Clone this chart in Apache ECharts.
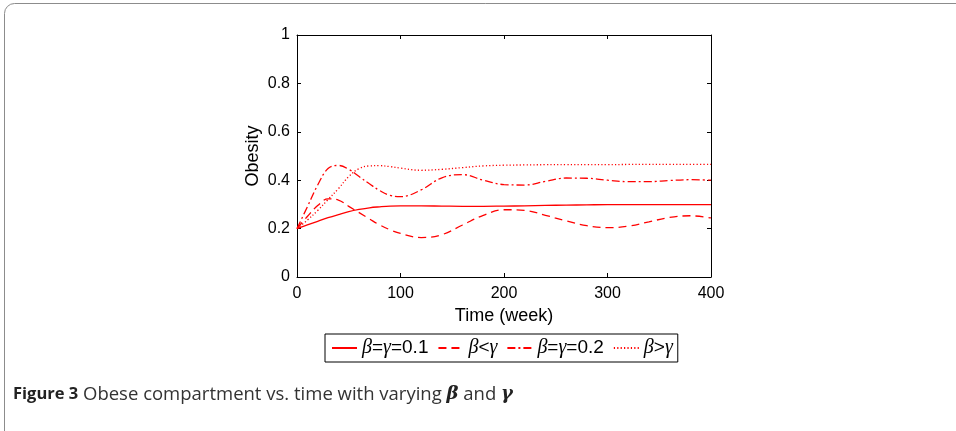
<!DOCTYPE html>
<html>
<head>
<meta charset="utf-8">
<script src="https://cdn.jsdelivr.net/npm/echarts@6/dist/echarts.min.js"></script>
<style>
  html, body { margin: 0; padding: 0; background: #fff; }
  #chart { width: 956px; height: 431px; }
</style>
</head>
<body>
<div id="chart"></div>
<script>
// 시간 (week)
var times = [0, 10, 20, 30, 40, 50, 60, 70, 80, 90, 100, 120, 140, 160, 180, 200, 220, 240, 260, 280, 300, 320, 340, 360, 380, 400];

// beta = gamma = 0.1
var eq01 = [0.2, 0.215, 0.23, 0.245, 0.258, 0.27, 0.279, 0.286, 0.29, 0.293, 0.294, 0.294, 0.293, 0.292, 0.292, 0.293, 0.294, 0.296, 0.297, 0.298, 0.299, 0.299, 0.299, 0.299, 0.299, 0.299];
// beta < gamma
var betaLess = [0.2, 0.25, 0.295, 0.323, 0.318, 0.292, 0.266, 0.24, 0.215, 0.195, 0.18, 0.163, 0.175, 0.215, 0.255, 0.278, 0.275, 0.255, 0.232, 0.212, 0.204, 0.21, 0.228, 0.246, 0.253, 0.244];
// beta = gamma = 0.2
var eq02 = [0.2, 0.29, 0.38, 0.448, 0.461, 0.445, 0.415, 0.385, 0.357, 0.337, 0.332, 0.36, 0.41, 0.423, 0.4, 0.382, 0.38, 0.395, 0.409, 0.408, 0.4, 0.394, 0.394, 0.399, 0.402, 0.4];
// beta > gamma
var betaMore = [0.2, 0.235, 0.275, 0.32, 0.365, 0.415, 0.448, 0.459, 0.46, 0.456, 0.45, 0.441, 0.445, 0.452, 0.459, 0.462, 0.463, 0.464, 0.464, 0.464, 0.464, 0.465, 0.465, 0.465, 0.465, 0.465];

var legendNames = ['b=g=0.1', 'b<g', 'b=g=0.2', 'b>g'];

function pairs(vals) {
    return times.map(function (t, i) { return [t, vals[i]]; });
}

// legend 라벨 (그리스 문자는 이탤릭 serif)
function legendLabel(name) {
    var out = '';
    for (var i = 0; i < name.length; i++) {
        var c = name[i];
        if (c == 'b') out += '{g|β}';
        else if (c == 'g') out += '{g|γ}';
        else out += '{n|' + c + '}';
    }
    return out;
}

var chart = echarts.init(document.getElementById('chart'));

function lineSeries(name, vals, dash) {
    return {
        name: name,
        type: 'line',
        smooth: 0.4,
        showSymbol: false,
        symbol: 'none',
        data: pairs(vals),
        lineStyle: { color: '#ff0000', width: 1.3, type: dash },
        itemStyle: { color: '#ff0000' },
        z: 3
    };
}

function boxAxis(pos) {
    return {
        type: 'value',
        position: pos,
        axisLine: { show: true, onZero: false, lineStyle: { color: '#000', width: 1 } },
        axisTick: { show: true, inside: true, length: 4, lineStyle: { color: '#000' } },
        axisLabel: { show: false },
        splitLine: { show: false }
    };
}

var xTop = boxAxis('top');
xTop.min = 0; xTop.max = 400; xTop.interval = 100;
var yRight = boxAxis('right');
yRight.min = 0; yRight.max = 1; yRight.interval = 0.2;

var option = {
    animation: false,
    backgroundColor: '#fff',
    graphic: [
        {
            type: 'rect',
            shape: { x: 4.5, y: 3.5, width: 1000, height: 500, r: 10 },
            style: { fill: 'none', stroke: '#8c8c8c', lineWidth: 1 },
            silent: true
        },
        {
            type: 'text',
            left: 13,
            top: 385,
            style: {
                rich: {
                    b: { fontFamily: 'Open Sans', fontWeight: 'bold', fontSize: 16.5, fill: '#222' },
                    t: { fontFamily: 'Open Sans', fontSize: 18.5, fill: '#333' },
                    m: { fontFamily: 'DejaVu Serif', fontStyle: 'italic', fontWeight: 'bold', fontSize: 18, fill: '#222' }
                },
                text: '{b|Figure 3}{t| Obese compartment vs. time with varying }{m|β}{t| and }{m|γ}'
            }
        }
    ],
    grid: { left: 297, right: 245, top: 35, bottom: 154 },
    legend: {
        data: legendNames,
        left: 325,
        top: 334,
        orient: 'horizontal',
        itemWidth: 25,
        itemHeight: 10,
        itemGap: 9,
        padding: [4, 5, 4, 6],
        borderColor: '#000',
        borderWidth: 1,
        borderRadius: 0,
        itemStyle: { opacity: 0 },
        formatter: legendLabel,
        textStyle: {
            rich: {
                g: { fontFamily: 'Liberation Serif', fontStyle: 'italic', fontSize: 20, color: '#000' },
                n: { fontFamily: 'Liberation Sans', fontSize: 19, color: '#000' }
            }
        }
    },
    xAxis: [
        {
            type: 'value',
            min: 0, max: 400, interval: 100,
            name: 'Time (week)',
            nameLocation: 'middle',
            nameGap: 30,
            nameTextStyle: { fontFamily: 'Liberation Sans', fontSize: 18, color: '#000' },
            axisLine: { show: true, onZero: false, lineStyle: { color: '#000', width: 1 } },
            axisTick: { show: true, inside: true, length: 4, lineStyle: { color: '#000' } },
            axisLabel: { fontFamily: 'Liberation Sans', fontSize: 16, color: '#000', margin: 9 },
            splitLine: { show: false }
        },
        xTop
    ],
    yAxis: [
        {
            type: 'value',
            min: 0, max: 1, interval: 0.2,
            name: 'Obesity',
            nameLocation: 'middle',
            nameGap: 35,
            nameTextStyle: { fontFamily: 'Liberation Sans', fontSize: 18, color: '#000' },
            axisLine: { show: true, onZero: false, lineStyle: { color: '#000', width: 1 } },
            axisTick: { show: true, inside: true, length: 4, lineStyle: { color: '#000' } },
            axisLabel: { fontFamily: 'Liberation Sans', fontSize: 16, color: '#000', margin: 7 },
            splitLine: { show: false }
        },
        yRight
    ],
    series: [
        lineSeries(legendNames[0], eq01, 'solid'),
        lineSeries(legendNames[1], betaLess, [8, 5]),
        lineSeries(legendNames[2], eq02, [8, 3, 2, 3]),
        lineSeries(legendNames[3], betaMore, [1.2, 2.2])
    ]
};

chart.setOption(option);
</script>
</body>
</html>
